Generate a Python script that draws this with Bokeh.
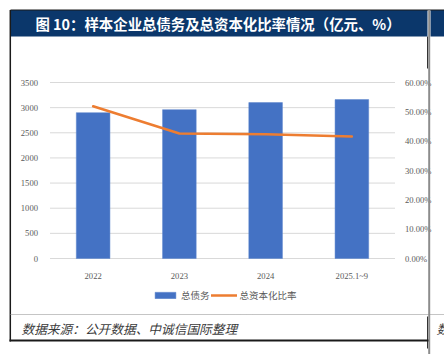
from bokeh.plotting import figure
from bokeh.models import (Range1d, FactorRange, LinearAxis, CategoricalAxis, FixedTicker,
                          NumeralTickFormatter, BoxAnnotation, Label, Arrow, Legend, LegendItem)
from bokeh.embed import file_html
from bokeh.resources import INLINE

# ---- data ----
categories = ["2022", "2023", "2024", "2025.1~9"]
total_debt = [2900, 2960, 3100, 3160]          # 亿元
cap_ratio = [0.519, 0.426, 0.424, 0.416]        # 总资本化比率
left_ticks = [0, 500, 1000, 1500, 2000, 2500, 3000, 3500]
right_ticks = [0, 0.1, 0.2, 0.3, 0.4, 0.5, 0.6]
series_names = ["总债务", "总资本化比率"]
title_text = "图 10：样本企业总债务及总资本化比率情况（亿元、%）"
source_text = "数据来源：公开数据、中诚信国际整理"
cut_text = "数"

# ---- layout (pixels) ----
W, H = 444, 354
PL, PR, PT, PB = 49.5, 394.5, 82, 258      # plot area inside the canvas
NAVY = "#0b376b"
TICK_FONT = "Liberation Serif"
CJK = "Noto Sans CJK SC"

n = len(categories)
cat_w = (PR - PL) / n
pad_l = PL / cat_w
y_max = left_ticks[-1]
r_max = right_ticks[-1]
ppu = (PB - PT) / y_max
y_lo = -(H - PB) / ppu
y_hi = y_max + PT / ppu
rppu = (PB - PT) / r_max
r_lo = -(H - PB) / rppu
r_hi = r_max + PT / rppu

p = figure(width=W, height=H,
           x_range=FactorRange(factors=categories, range_padding=pad_l,
                               range_padding_units="absolute"),
           y_range=Range1d(y_lo, y_hi), output_backend="svg", toolbar_location=None,
           x_axis_location=None, y_axis_location=None,
           min_border=0, min_border_left=0, min_border_right=0, min_border_top=0,
           min_border_bottom=0)
p.outline_line_color = None
p.background_fill_color = "white"
p.border_fill_color = "white"
p.xgrid.visible = False
p.ygrid.visible = False
p.extra_y_ranges = {"pct": Range1d(r_lo, r_hi)}

# gridlines across the plot area only
p.segment(x0=[0] * len(left_ticks), x1=[n] * len(left_ticks), y0=left_ticks, y1=left_ticks,
          line_color="#d9d9d9", line_width=1)

lax = LinearAxis(ticker=FixedTicker(ticks=left_ticks), fixed_location=0)
rax = LinearAxis(y_range_name="pct", ticker=FixedTicker(ticks=right_ticks),
                 formatter=NumeralTickFormatter(format="0.00%"), fixed_location=n)
bax = CategoricalAxis(fixed_location=0)
p.add_layout(lax, "left")
p.add_layout(rax, "right")
p.add_layout(bax, "below")
for ax in [lax, rax, bax]:
    ax.axis_line_color = None
    ax.major_tick_line_color = None
    ax.minor_tick_line_color = None
    ax.major_label_text_font = TICK_FONT
    ax.major_label_text_font_size = "8.6px"
    ax.major_label_text_color = "#595959"
    ax.major_label_standoff = 6
rax.major_label_standoff = 4

bars = p.vbar(x=categories, top=total_debt, width=0.39, fill_color="#4472C4",
              line_color="#5b84cc", line_width=0.5)
line = p.line(x=categories, y=cap_ratio, y_range_name="pct", line_color="#ED7D31",
              line_width=2.5, line_join="round", line_cap="round")

legend = Legend(items=[LegendItem(label=series_names[0], renderers=[bars]),
                       LegendItem(label=series_names[1], renderers=[line])],
                location=(152, H - 302), orientation="horizontal", margin=0, padding=0,
                border_line_color=None, background_fill_alpha=0,
                glyph_width=26, glyph_height=8, label_standoff=3, spacing=1,
                label_text_font=CJK, label_text_font_size="9.5px", label_text_color="#595959")
p.add_layout(legend, "center")


def sy(cy):
    return H - cy


def box(x0, y0, x1, y1, color):
    p.add_layout(BoxAnnotation(left=x0, right=x1, top=sy(y0), bottom=sy(y1),
                               left_units="screen", right_units="screen",
                               top_units="screen", bottom_units="screen",
                               fill_color=color, fill_alpha=1, line_color=None))


def seg(x0, y0, x1, y1, color, width, dash="solid"):
    p.add_layout(Arrow(x_start=x0, y_start=sy(y0), x_end=x1, y_end=sy(y1),
                       start_units="screen", end_units="screen", start=None, end=None,
                       line_color=color, line_width=width, line_dash=dash))


box(10, 9.5, 427, 36, NAVY)
box(430, 9.5, 444, 36, NAVY)
seg(10, 9.5, 444, 9.5, "#1a1a1a", 1)
seg(9.8, 9.5, 9.8, 341, "#1a1a1a", 1.5)
seg(428.7, 9.5, 428.7, 354, "#8c8c8c", 2)
seg(427, 36, 427, 68, "#333333", 1)
seg(427, 316, 427, 348, "#333333", 1)
seg(10, 314, 444, 314, "#8a8a8a", 1, "1 1")
seg(9, 340, 428, 340, "#1a1a1a", 2)

p.add_layout(Label(x=217.5, y=sy(23), x_units="screen", y_units="screen", text=title_text,
                   text_align="center", text_baseline="middle", text_color="white",
                   text_font=CJK, text_font_style="bold", text_font_size="14.4px"))
p.add_layout(Label(x=21, y=sy(328), x_units="screen", y_units="screen", text=source_text,
                   text_align="left", text_baseline="middle", text_color="#3a3a3a",
                   text_font=CJK, text_font_style="italic", text_font_size="12.7px"))
p.add_layout(Label(x=436, y=sy(328), x_units="screen", y_units="screen", text=cut_text,
                   text_align="left", text_baseline="middle", text_color="#3a3a3a",
                   text_font=CJK, text_font_style="italic", text_font_size="12.7px"))

open("out.html", "w").write(file_html(p, INLINE))
